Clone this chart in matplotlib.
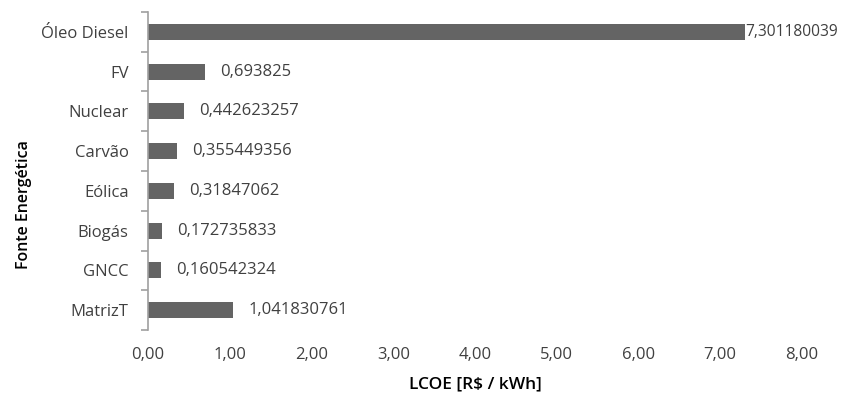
import matplotlib
matplotlib.use("Agg")
import matplotlib.pyplot as plt
import numpy as np

categories = ["MatrizT", "GNCC", "Biogás", "Eólica", "Carvão", "Nuclear", "FV", "Óleo Diesel"]
values = [1.041830761, 0.160542324, 0.172735833, 0.31847062, 0.355449356, 0.442623257, 0.693825, 7.301180039]
value_labels = ["1,041830761", "0,160542324", "0,172735833", "0,31847062", "0,355449356", "0,442623257", "0,693825", "7,301180039"]
xticks = [0, 1, 2, 3, 4, 5, 6, 7, 8]
xtick_labels = ["0,00", "1,00", "2,00", "3,00", "4,00", "5,00", "6,00", "7,00", "8,00"]

plt.rcParams['font.family'] = ['Open Sans', 'DejaVu Sans']

fig = plt.figure(figsize=(8.43, 4.0), dpi=100)
ax = fig.add_axes([148/843, 1-330/400, (802-148)/843, (330-12)/400])

y = np.arange(len(categories))
ax.barh(y, values, height=0.4, color="#646464")

ax.set_xlim(0, 8)
ax.set_ylim(-0.5, len(categories) - 0.5)

for i, (v, lab) in enumerate(zip(values, value_labels)):
    big = v > 7
    ax.annotate(lab, (v, i), xytext=(0 if big else 11, 0), textcoords="offset points",
                ha="left", va="center", fontsize=11.2 if big else 12, color="#404040")

ax.set_xticks(xticks)
ax.set_xticklabels(xtick_labels, fontsize=12, color="#404040")
ax.tick_params(axis="x", length=0, pad=12)

ax.set_yticks(np.arange(len(categories) + 1) - 0.5)
ax.set_yticklabels([])
ax.set_yticks(y, minor=True)
ax.set_yticklabels(categories, minor=True, fontsize=12, color="#404040")
ax.tick_params(axis="y", which="major", length=5, color="#a0a0a0", width=1.2, direction="out")
ax.tick_params(axis="y", which="minor", length=0, pad=14)

for s in ["top", "right", "bottom"]:
    ax.spines[s].set_visible(False)
ax.spines["left"].set_color("#a0a0a0")
ax.spines["left"].set_linewidth(1.2)

ax.set_xlabel("LCOE [R$ / kWh]", fontsize=12.5, fontweight="semibold", color="black", labelpad=10)
ax.set_ylabel("Fonte Energética", fontsize=11.5, fontweight="semibold", color="black")
ax.yaxis.set_label_coords(-0.178, 0.396)

fig.savefig("out.png", dpi=100)
